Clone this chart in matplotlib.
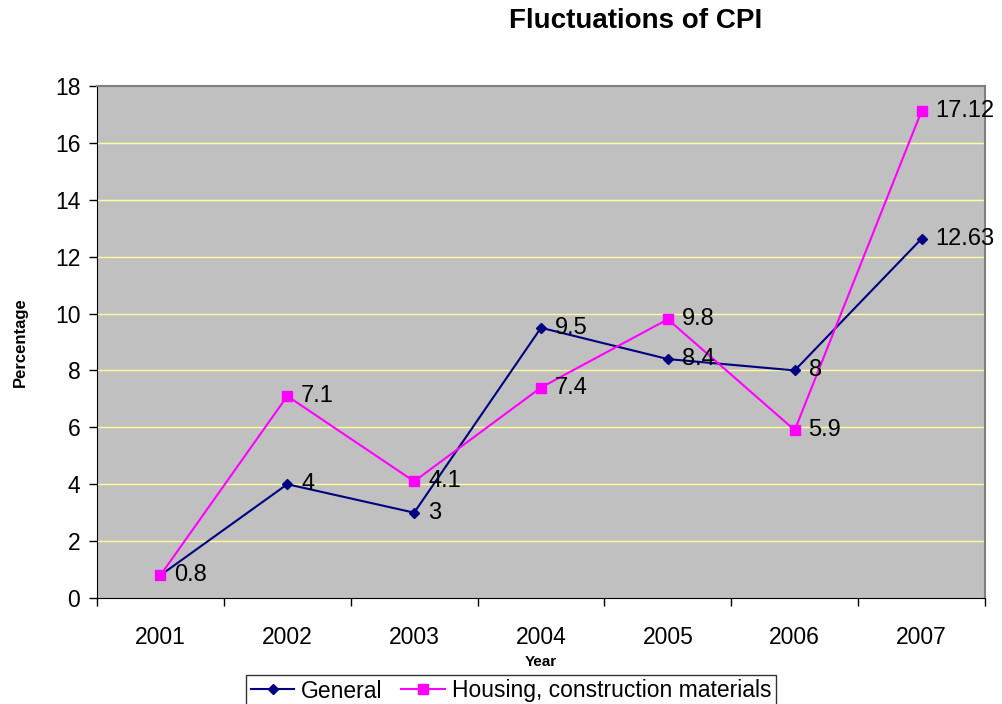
import matplotlib
matplotlib.use("Agg")
import matplotlib.pyplot as plt

plt.rcParams['font.family'] = ['Liberation Sans', 'DejaVu Sans']

# Data
years = ['2001', '2002', '2003', '2004', '2005', '2006', '2007']
general = [0.8, 4, 3, 9.5, 8.4, 8, 12.63]
housing = [0.8, 7.1, 4.1, 7.4, 9.8, 5.9, 17.12]
general_labels = ['', '4', '3', '9.5', '8.4', '8', '12.63']
housing_labels = ['0.8', '7.1', '4.1', '7.4', '9.8', '5.9', '17.12']

fig = plt.figure(figsize=(10.03, 7.04), dpi=100)
ax = fig.add_axes([97/1003, 1 - 598/704, 888/1003, 512/704])
ax.set_facecolor('#C0C0C0')

x = list(range(len(years)))
ax.plot(x, general, color='#000080', lw=1.5, marker='D', ms=5.5, label='General', zorder=3)
ax.plot(x, housing, color='#FF00FF', lw=1.5, marker='s', ms=7, label='Housing, construction materials', zorder=3)

# point labels
for i in x:
    if general_labels[i]:
        ax.annotate(general_labels[i], (i, general[i]), xytext=(10, 0), textcoords='offset points',
                    va='center', ha='left', fontsize=17, zorder=4)
    ax.annotate(housing_labels[i], (i, housing[i]), xytext=(10, 0), textcoords='offset points',
                va='center', ha='left', fontsize=17, zorder=4)

ax.set_xlim(-0.5, 6.5)
ax.set_ylim(0, 18)
ax.set_yticks(range(0, 19, 2))
ax.set_xticks(x)
ax.set_xticklabels(years)
ax.set_xticks([i + 0.5 for i in range(-1, 7)], minor=True)
ax.tick_params(axis='x', which='major', length=0, pad=20, labelsize=16.5)
ax.tick_params(axis='x', which='minor', length=6, direction='out', width=1)
ax.tick_params(axis='y', length=6, width=1, labelsize=16.5, pad=6)

for y in range(2, 18, 2):
    ax.axhline(y, color='#FFFF99', lw=1, zorder=1)

for side in ['top', 'right']:
    ax.spines[side].set_color('#808080')
    ax.spines[side].set_linewidth(1.5)
ax.spines['left'].set_color('black')
ax.spines['bottom'].set_color('black')

fig.text(636/1003, 1 - 21/704, 'Fluctuations of CPI', ha='center', va='center',
         fontsize=20, fontweight='bold')
fig.text(20/1003, 1 - 342/704, 'Percentage', rotation=90, ha='center', va='center',
         fontsize=12, fontweight='bold')
fig.text(541/1003, 1 - 662/704, 'Year', ha='center', va='center',
         fontsize=11, fontweight='bold')

leg = fig.legend(loc='center', bbox_to_anchor=(511/1003, 1 - 691/704), ncol=2, fontsize=16.5,
                 frameon=True, fancybox=False, edgecolor='black', handlelength=1.9,
                 columnspacing=0.8, handletextpad=0.3, borderpad=0.2, borderaxespad=0)
leg.get_frame().set_linewidth(1)

fig.savefig('out.png', dpi=100)
